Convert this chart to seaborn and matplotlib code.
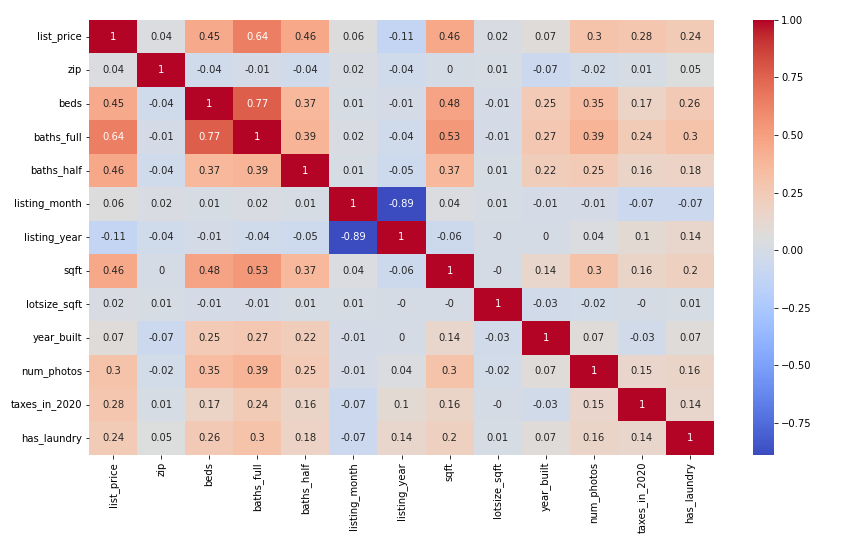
import numpy as np
import pandas as pd
import matplotlib
matplotlib.use("Agg")
import matplotlib.pyplot as plt
import seaborn as sns

# Feature names (rows and columns of the correlation matrix)
features = [
    "list_price", "zip", "beds", "baths_full", "baths_half", "listing_month",
    "listing_year", "sqft", "lotsize_sqft", "year_built", "num_photos",
    "taxes_in_2020", "has_laundry",
]

# Rounded correlations, one row per feature (-0.0 shows as "-0")
list_price = [1, 0.04, 0.45, 0.64, 0.46, 0.06, -0.11, 0.46, 0.02, 0.07, 0.3, 0.28, 0.24]
zip_code = [0.04, 1, -0.04, -0.01, -0.04, 0.02, -0.04, 0, 0.01, -0.07, -0.02, 0.01, 0.05]
beds = [0.45, -0.04, 1, 0.77, 0.37, 0.01, -0.01, 0.48, -0.01, 0.25, 0.35, 0.17, 0.26]
baths_full = [0.64, -0.01, 0.77, 1, 0.39, 0.02, -0.04, 0.53, -0.01, 0.27, 0.39, 0.24, 0.3]
baths_half = [0.46, -0.04, 0.37, 0.39, 1, 0.01, -0.05, 0.37, 0.01, 0.22, 0.25, 0.16, 0.18]
listing_month = [0.06, 0.02, 0.01, 0.02, 0.01, 1, -0.89, 0.04, 0.01, -0.01, -0.01, -0.07, -0.07]
listing_year = [-0.11, -0.04, -0.01, -0.04, -0.05, -0.89, 1, -0.06, -0.0, 0, 0.04, 0.1, 0.14]
sqft = [0.46, 0, 0.48, 0.53, 0.37, 0.04, -0.06, 1, -0.0, 0.14, 0.3, 0.16, 0.2]
lotsize_sqft = [0.02, 0.01, -0.01, -0.01, 0.01, 0.01, -0.0, -0.0, 1, -0.03, -0.02, -0.0, 0.01]
year_built = [0.07, -0.07, 0.25, 0.27, 0.22, -0.01, 0, 0.14, -0.03, 1, 0.07, -0.03, 0.07]
num_photos = [0.3, -0.02, 0.35, 0.39, 0.25, -0.01, 0.04, 0.3, -0.02, 0.07, 1, 0.15, 0.16]
taxes_in_2020 = [0.28, 0.01, 0.17, 0.24, 0.16, -0.07, 0.1, 0.16, -0.0, -0.03, 0.15, 1, 0.14]
has_laundry = [0.24, 0.05, 0.26, 0.3, 0.18, -0.07, 0.14, 0.2, 0.01, 0.07, 0.16, 0.14, 1]

rows = [list_price, zip_code, beds, baths_full, baths_half, listing_month,
        listing_year, sqft, lotsize_sqft, year_built, num_photos,
        taxes_in_2020, has_laundry]
corr = pd.DataFrame(np.array(rows, dtype=float), index=features, columns=features)

fig = plt.figure(figsize=(851 / 72, 539 / 72), dpi=72)
ax = fig.add_axes([0.1046, 0.156, 0.7344, 0.807])
cbar_ax = fig.add_axes([0.885, 0.156, 0.0247, 0.807])

sns.heatmap(corr, annot=True, cmap="coolwarm", ax=ax, cbar_ax=cbar_ax)

fig.savefig("out.png", dpi=72)
